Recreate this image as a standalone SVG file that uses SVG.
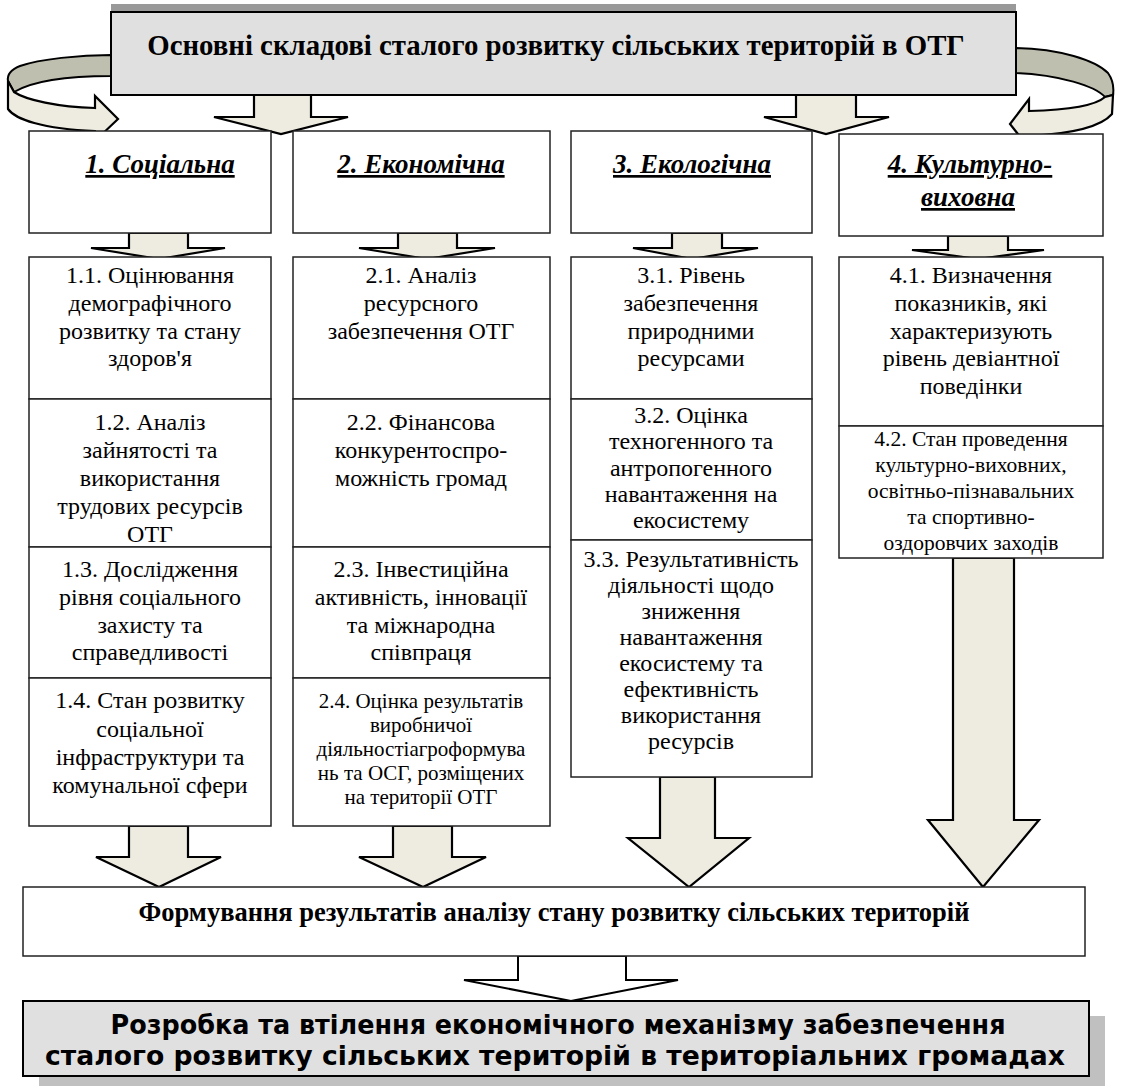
<svg xmlns="http://www.w3.org/2000/svg" width="1121" height="1086" viewBox="0 0 1121 1086">
<style>
.box{fill:#fff;stroke:#222;stroke-width:1.5}
.shadow{fill:#c0c0c0}
.arr{fill:#eeece1;stroke:#000;stroke-width:2.2;stroke-linejoin:miter}
.back{fill:#bfbfb0;stroke:#000;stroke-width:2}
.t{font-family:"Liberation Serif","Times New Roman",serif;font-size:24px;fill:#000;text-anchor:middle}
.s22{font-size:21.5px}
.s21{font-size:21px}
.hd{font-family:"Liberation Serif","Times New Roman",serif;font-size:27px;font-weight:bold;font-style:italic;text-decoration:underline;text-anchor:middle}
.bt{font-family:"Liberation Serif","Times New Roman",serif;font-weight:bold;text-anchor:middle}
.vt{font-family:"DejaVu Sans",Verdana,sans-serif;font-weight:bold;font-size:26px;text-anchor:middle}
</style>

<g id="title">
<rect x="111" y="4" width="905" height="9" fill="#999"/>
<rect x="111" y="12" width="905" height="83" fill="#e0e0e0" stroke="#000" stroke-width="2"/>
<text class="bt" x="556" y="55" font-size="28.8">Основні складові сталого розвитку сільських територій в ОТГ</text>
</g>

<g id="connectors">
<!-- curved arrows -->
<path class="back" d="M111,55 C80,55 40,59 20,66 C10,70 7,75 8,81 L14,92 C31,82 62,76 111,76 Z"/>
<path class="arr" d="M8,81 L8,109 C15,119 42,129 95,131 L97,139 L118,119 L95,96 L95,108 C58,107 26,100 14,92 Z"/>
<path class="back" d="M1016,48 C1060,49 1095,60 1108,73 C1113,80 1114,88 1113,95 L1105,97 C1095,86 1060,75 1016,73 Z"/>
<path class="arr" d="M1113,95 L1112,114 C1100,128 1068,134 1029,136 L1029,148 L1010,124 L1029,99 L1029,111 C1068,110 1095,106 1105,97 Z"/>
<!-- title down arrows -->
<path class="arr" d="M254,95 L311,95 L311,117 L348,117 L281,134 L214,117 L254,117 Z"/>
<path class="arr" d="M796,95 L856,95 L856,117 L889,117 L826,134 L764,117 L796,117 Z"/>
<!-- header down arrows -->
<path class="arr" d="M129,233 L188,233 L188,248 L225,248 L159,259 L91,248 L129,248 Z"/>
<path class="arr" d="M398,233 L457,233 L457,248 L495,248 L427,259 L359,248 L398,248 Z"/>
<path class="arr" d="M672,233 L722,233 L722,248 L758,248 L692,259 L633,248 L672,248 Z"/>
<path class="arr" d="M948,236 L1008,236 L1008,250 L1044,250 L978,259 L912,250 L948,250 Z"/>
<!-- lower arrows -->
<path class="arr" d="M129,826 L188,826 L188,857 L221,857 L159,887 L96,857 L129,857 Z"/>
<path class="arr" d="M393,826 L452,826 L452,857 L486,857 L423,887 L359,857 L393,857 Z"/>
<path class="arr" d="M660,777 L715,777 L715,838 L749,838 L689,887 L628,838 L660,838 Z"/>
<path class="arr" d="M953,558 L1014,558 L1014,820 L1039,820 L983,887 L928,820 L953,820 Z"/>
<!-- bottom outlined arrow -->
<path d="M518,956 L626,956 L626,980 L678,980 L571,1001 L464,980 L518,980 Z" fill="#fff" stroke="#000" stroke-width="2"/>
</g>

<g id="h1"><rect class="box" x="29" y="131" width="242" height="102"/><text class="hd" x="160" y="173">1. Соціальна</text></g>
<g id="h2"><rect class="box" x="293" y="131" width="257" height="102"/><text class="hd" x="421" y="173">2. Економічна</text></g>
<g id="h3"><rect class="box" x="571" y="131" width="241" height="102"/><text class="hd" x="692" y="173">3. Екологічна</text></g>
<g id="h4"><rect class="box" x="839" y="134" width="264" height="102"/><text class="hd" x="970" y="173">4. Культурно-</text><text class="hd" x="968" y="206">виховна</text></g>

<g id="n11"><rect class="box" x="29" y="257" width="242" height="142"/>
<text class="t"><tspan x="150" y="283">1.1. Оцінювання</tspan><tspan x="150" y="311">демографічного</tspan><tspan x="150" y="339">розвитку та стану</tspan><tspan x="150" y="366">здоров'я</tspan></text></g>
<g id="n12"><rect class="box" x="29" y="399" width="242" height="148"/>
<text class="t"><tspan x="150" y="430">1.2. Аналіз</tspan><tspan x="150" y="458">зайнятості та</tspan><tspan x="150" y="486">використання</tspan><tspan x="150" y="514">трудових ресурсів</tspan><tspan x="150" y="542">ОТГ</tspan></text></g>
<g id="n13"><rect class="box" x="29" y="547" width="242" height="131"/>
<text class="t"><tspan x="150" y="577">1.3. Дослідження</tspan><tspan x="150" y="605">рівня соціального</tspan><tspan x="150" y="633">захисту та</tspan><tspan x="150" y="660">справедливості</tspan></text></g>
<g id="n14"><rect class="box" x="29" y="678" width="242" height="148"/>
<text class="t"><tspan x="150" y="708">1.4. Стан розвитку</tspan><tspan x="150" y="737">соціальної</tspan><tspan x="150" y="765">інфраструктури та</tspan><tspan x="150" y="793">комунальної сфери</tspan></text></g>

<g id="n21"><rect class="box" x="293" y="257" width="257" height="142"/>
<text class="t"><tspan x="421" y="283">2.1. Аналіз</tspan><tspan x="421" y="311">ресурсного</tspan><tspan x="421" y="339">забезпечення ОТГ</tspan></text></g>
<g id="n22"><rect class="box" x="293" y="399" width="257" height="148"/>
<text class="t"><tspan x="421" y="430">2.2. Фінансова</tspan><tspan x="421" y="458">конкурентоспро-</tspan><tspan x="421" y="486">можність громад</tspan></text></g>
<g id="n23"><rect class="box" x="293" y="547" width="257" height="131"/>
<text class="t"><tspan x="421" y="577">2.3. Інвестиційна</tspan><tspan x="421" y="605">активність, інновації</tspan><tspan x="421" y="633">та міжнародна</tspan><tspan x="421" y="660">співпраця</tspan></text></g>
<g id="n24"><rect class="box" x="293" y="678" width="257" height="148"/>
<text class="t s21"><tspan x="421" y="708">2.4. Оцінка результатів</tspan><tspan x="421" y="732">виробничої</tspan><tspan x="421" y="756">діяльностіагроформува</tspan><tspan x="421" y="780">нь та ОСГ, розміщених</tspan><tspan x="421" y="804">на території ОТГ</tspan></text></g>

<g id="n31"><rect class="box" x="571" y="257" width="241" height="142"/>
<text class="t"><tspan x="691" y="283">3.1. Рівень</tspan><tspan x="691" y="311">забезпечення</tspan><tspan x="691" y="339">природними</tspan><tspan x="691" y="366">ресурсами</tspan></text></g>
<g id="n32"><rect class="box" x="571" y="399" width="241" height="141"/>
<text class="t"><tspan x="691" y="423">3.2. Оцінка</tspan><tspan x="691" y="449">техногенного та</tspan><tspan x="691" y="476">антропогенного</tspan><tspan x="691" y="502">навантаження на</tspan><tspan x="691" y="528">екосистему</tspan></text></g>
<g id="n33"><rect class="box" x="571" y="540" width="241" height="237"/>
<text class="t"><tspan x="691" y="567">3.3. Результативність</tspan><tspan x="691" y="593">діяльності щодо</tspan><tspan x="691" y="619">зниження</tspan><tspan x="691" y="645">навантаження</tspan><tspan x="691" y="671">екосистему та</tspan><tspan x="691" y="697">ефективність</tspan><tspan x="691" y="723">використання</tspan><tspan x="691" y="749">ресурсів</tspan></text></g>

<g id="n41"><rect class="box" x="839" y="257" width="264" height="169"/>
<text class="t"><tspan x="971" y="283">4.1. Визначення</tspan><tspan x="971" y="311">показників, які</tspan><tspan x="971" y="339">характеризують</tspan><tspan x="971" y="366">рівень девіантної</tspan><tspan x="971" y="394">поведінки</tspan></text></g>
<g id="n42"><rect class="box" x="839" y="426" width="264" height="132"/>
<text class="t s22"><tspan x="971" y="446">4.2. Стан проведення</tspan><tspan x="971" y="472">культурно-виховних,</tspan><tspan x="971" y="498">освітньо-пізнавальних</tspan><tspan x="971" y="524">та спортивно-</tspan><tspan x="971" y="550">оздоровчих заходів</tspan></text></g>

<g id="result"><rect class="box" x="23" y="887" width="1062" height="69"/>
<text class="bt" x="554" y="921" font-size="26.5">Формування результатів аналізу стану розвитку сільських територій</text></g>

<g id="final">
<rect class="shadow" x="39" y="1016" width="1066" height="80"/>
<rect x="23" y="1001" width="1066" height="75" fill="#e0e0e0" stroke="#000" stroke-width="2"/>
<text class="vt"><tspan x="558" y="1034" textLength="895" lengthAdjust="spacingAndGlyphs">Розробка та втілення економічного механізму забезпечення</tspan><tspan x="555" y="1065" textLength="1020" lengthAdjust="spacingAndGlyphs">сталого розвитку сільських територій в територіальних громадах</tspan></text>
</g>
</svg>
